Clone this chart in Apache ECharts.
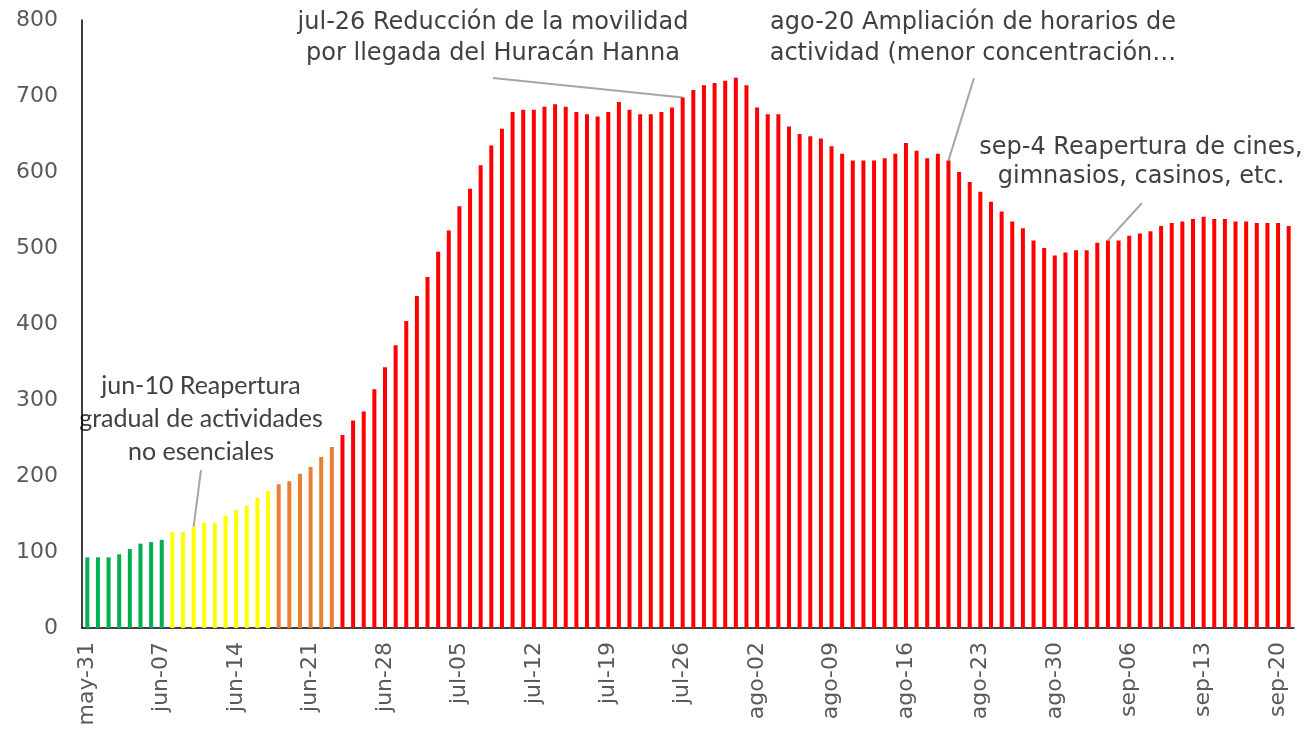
<!DOCTYPE html>
<html>
<head>
<meta charset="utf-8">
<title>Movilidad</title>
<script src="https://cdn.jsdelivr.net/npm/echarts@6/dist/echarts.min.js"></script>
<style>
html,body{margin:0;padding:0;background:#fff;}
#main{width:1308px;height:729px;}
</style>
</head>
<body>
<div id="main"></div>
<script>
// dias desde may-31
var meses = ['may', 'jun', 'jul', 'ago', 'sep'];
var diasMes = [31, 30, 31, 31, 30];
var inicio = [0, 31];   // [mes, dia]
var totalDias = 114;

var valores = [
  93, 93, 93, 97, 104, 111, 113, 116, 126, 126,
  133, 138, 138, 148, 155, 161, 171, 180, 189, 193,
  203, 212, 225, 238, 254, 273, 285, 314, 343, 372,
  404, 437, 462, 495, 523, 555, 578, 609, 635, 657,
  679, 682, 682, 686, 689, 686, 679, 676, 673, 679,
  692, 682, 676, 676, 679, 685, 698, 708, 714, 717,
  720, 724, 714, 685, 676, 676, 660, 650, 647, 644,
  634, 624, 615, 615, 615, 618, 624, 638, 628, 618,
  624, 615, 600, 587, 574, 561, 548, 535, 526, 510,
  500, 490, 494, 497, 497, 507, 510, 510, 516, 519,
  522, 529, 533, 535, 538, 541, 538, 538, 535, 535,
  533, 533, 533, 529
];

// fin de cada fase (indice) y su color
var finFase = [7, 17, 23, 113];
var colorFase = ['#00B050', '#FFFF00', '#ED7D31', '#FF0000'];

var notas = [
  {idx: 10, texto: 'jun-10 Reapertura\ngradual de actividades\nno esenciales'},
  {idx: 56, texto: 'jul-26 Reducción de la movilidad\npor llegada del Huracán Hanna'},
  {idx: 81, texto: 'ago-20 Ampliación de horarios de\nactividad (menor concentración…'},
  {idx: 96, texto: 'sep-4 Reapertura de cines,\ngimnasios, casinos, etc.'}
];

var dias = [];
var m = inicio[0], d = inicio[1];
for (var i = 0; i < totalDias; i++) {
  dias.push(meses[m] + '-' + (d < 10 ? '0' + d : d));
  d++;
  if (d > diasMes[m]) { d = 1; m++; }
}

function colorDe(i) {
  for (var k = 0; k < finFase.length; k++) {
    if (i <= finFase[k]) return colorFase[k];
  }
  return colorFase[colorFase.length - 1];
}

var fuente = 'DejaVu Sans';
var gris = '#595959';

var myChart = echarts.init(document.getElementById('main'));

var option = {
  animation: false,
  grid: {left: 82, right: 14, top: 20, bottom: 101},
  xAxis: {
    type: 'category',
    data: dias,
    boundaryGap: true,
    axisLine: {lineStyle: {color: '#000', width: 1.5}},
    axisTick: {interval: 6, length: 6, lineStyle: {color: '#000', width: 1.5}},
    axisLabel: {interval: 6, rotate: 90, margin: 14, color: gris, fontFamily: fuente, fontSize: 22}
  },
  yAxis: {
    type: 'value',
    min: 0, max: 800, interval: 100,
    axisLine: {show: true, lineStyle: {color: '#000', width: 1.5}},
    axisTick: {show: false},
    splitLine: {show: false},
    axisLabel: {margin: 24, color: gris, fontFamily: fuente, fontSize: 22}
  },
  series: [{
    type: 'bar',
    barWidth: 4,
    data: valores,
    itemStyle: {color: function (p) { return colorDe(p.dataIndex); }}
  }]
};
myChart.setOption(option);

// posiciones de las notas: centro del texto, arranque de la guia
var posNotas = [
  {tx: 201, ty: 369, lx: 201, ly: 470, font: 'Lato', size: 25, lh: 33},
  {tx: 493, ty: 7, lx: 493, ly: 78, font: fuente, size: 24, lh: 31},
  {tx: 973, ty: 7, lx: 974, ly: 78, font: fuente, size: 24, lh: 31},
  {tx: 1141, ty: 133, lx: 1142, ly: 203, font: fuente, size: 24, lh: 29}
];

var graficos = [];
notas.forEach(function (n, k) {
  var p = posNotas[k];
  var fin = myChart.convertToPixel({seriesIndex: 0}, [n.idx, valores[n.idx]]);
  graficos.push({
    type: 'line',
    shape: {x1: p.lx, y1: p.ly, x2: fin[0], y2: fin[1]},
    style: {stroke: '#A6A6A6', lineWidth: 2}
  });
  graficos.push({
    type: 'text',
    x: p.tx, y: p.ty,
    style: {
      text: n.texto, fill: '#404040', font: p.size + 'px "' + p.font + '"',
      lineHeight: p.lh, align: 'center', verticalAlign: 'top'
    }
  });
});
myChart.setOption({graphic: graficos});
window.onresize = myChart.resize;
</script>
</body>
</html>
